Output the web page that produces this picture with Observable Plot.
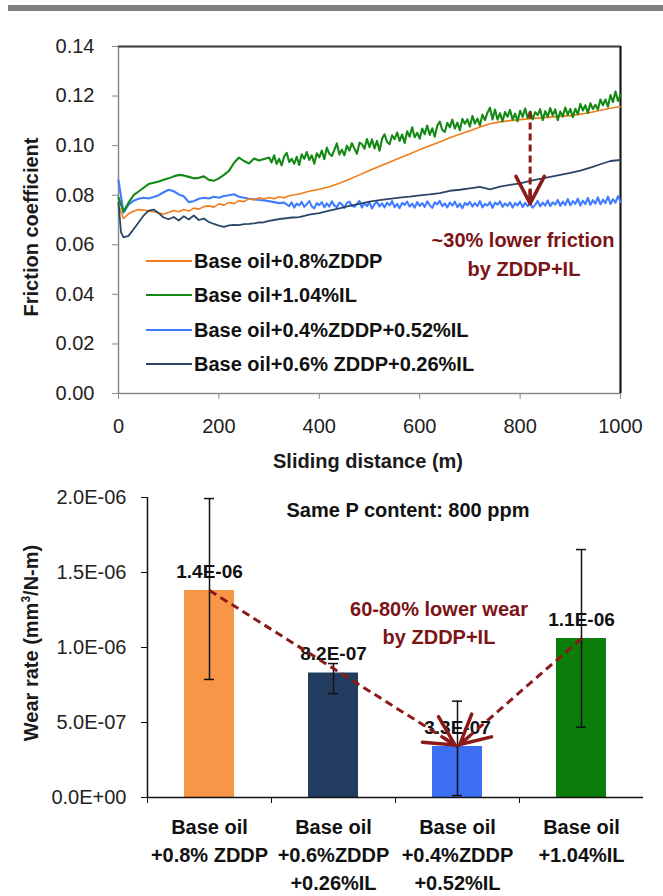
<!DOCTYPE html>
<html><head><meta charset="utf-8">
<script src="https://cdn.jsdelivr.net/npm/d3@7"></script>
<script src="https://cdn.jsdelivr.net/npm/@observablehq/plot@0.6"></script>
<style>
html,body{margin:0;padding:0;background:#fff;}
#page{position:relative;width:663px;height:896px;overflow:hidden;font-family:"Liberation Sans",Arial,sans-serif;color:#1a1a1a;}
.abs{position:absolute;white-space:nowrap;font-weight:bold;font-size:20px;line-height:1;}
.c{transform:translate(-50%,-50%);}
.rot{transform:translate(-50%,-50%) rotate(-90deg);}
.red{color:#7b1416;}
</style></head>
<body><div id="page">
<div id="top" style="position:absolute;left:0;top:0"></div>
<div id="bottom" style="position:absolute;left:0;top:480px"></div>
<div id="band" style="position:absolute;left:8px;top:5px;width:655px;height:6px;background:#808080"></div>
</div>
<script>
// ---------- Friction data (sliding distance m, friction coefficient) ----------
const orangeData = [[0,0.0760],[10,0.0706],[20,0.0725],[30,0.0735],[40,0.0742],[50,0.0740],[60,0.0736],[70,0.0733],[80,0.0728],[90,0.0724],[100,0.0730],[110,0.0738],[120,0.0733],[130,0.0742],[140,0.0736],[150,0.0748],[160,0.0744],[170,0.0754],[180,0.0757],[190,0.0752],[200,0.0765],[210,0.0760],[220,0.0771],[230,0.0766],[240,0.0778],[250,0.0774],[260,0.0786],[270,0.0781],[280,0.0790],[290,0.0785],[300,0.0791],[310,0.0786],[320,0.0794],[330,0.0790],[340,0.0798],[360,0.0805],[380,0.0816],[400,0.0824],[420,0.0834],[440,0.0848],[460,0.0864],[480,0.0882],[500,0.0900],[520,0.0917],[540,0.0933],[560,0.0950],[580,0.0966],[600,0.0984],[620,0.1000],[640,0.1015],[660,0.1032],[680,0.1046],[700,0.1060],[720,0.1075],[740,0.1088],[760,0.1096],[780,0.1101],[800,0.1105],[820,0.1109],[840,0.1112],[860,0.1115],[880,0.1118],[900,0.1121],[920,0.1127],[940,0.1134],[960,0.1143],[980,0.1151],[1000,0.1158]];

const greenData = [[0,0.0790],[10,0.0734],[20,0.0770],[30,0.0800],[40,0.0815],[50,0.0830],[60,0.0845],[70,0.0850],[80,0.0855],[90,0.0862],[100,0.0868],[110,0.0876],[120,0.0882],[130,0.0880],[140,0.0874],[150,0.0868],[160,0.0870],[170,0.0876],[180,0.0862],[190,0.0858],[200,0.0868],[210,0.0882],[220,0.0898],[230,0.0930],[240,0.0952],[250,0.0938],[260,0.0928],[270,0.0948],[280,0.0940],[290,0.0946],
[300,0.0952],[305,0.0932],[310,0.0961],[315,0.0926],[320,0.0947],[325,0.0920],[330,0.0957],[335,0.0971],[340,0.0934],[345,0.0947],[350,0.0927],[355,0.0955],[360,0.0922],[365,0.0965],[370,0.0947],[375,0.0974],[380,0.0942],[385,0.0961],[390,0.0927],[395,0.0969],
[400,0.0953],[405,0.0980],[410,0.0945],[415,0.0992],[420,0.0967],[425,0.0958],[430,0.0983],[435,0.1009],[440,0.0964],[445,0.0984],[450,0.0961],[455,0.1000],[460,0.0980],[465,0.1010],[470,0.0988],[475,0.0967],[480,0.1012],[485,0.1006],[490,0.0988],[495,0.1027],
[500,0.0994],[505,0.1025],[510,0.0989],[515,0.1019],[520,0.0979],[525,0.1028],[530,0.1046],[535,0.1015],[540,0.1006],[545,0.1042],[550,0.1026],[555,0.1053],[560,0.1019],[565,0.1045],[570,0.1011],[575,0.1058],[580,0.1036],[585,0.1074],[590,0.1034],[595,0.1052],
[600,0.1028],[605,0.1069],[610,0.1046],[615,0.1081],[620,0.1043],[625,0.1070],[630,0.1036],[635,0.1080],[640,0.1097],[645,0.1063],[650,0.1055],[655,0.1092],[660,0.1074],[665,0.1105],[670,0.1069],[675,0.1093],[680,0.1062],[685,0.1108],[690,0.1088],[695,0.1106],
[700,0.1077],[705,0.1120],[710,0.1089],[715,0.1109],[720,0.1082],[725,0.1125],[730,0.1103],[735,0.1133],[740,0.1153],[745,0.1106],[750,0.1146],[755,0.1105],[760,0.1131],[765,0.1098],[770,0.1136],[775,0.1117],[780,0.1144],[785,0.1105],[790,0.1129],[795,0.1098],
[800,0.1141],[805,0.1116],[810,0.1150],[815,0.1112],[820,0.1138],[825,0.1106],[830,0.1135],[835,0.1123],[840,0.1147],[845,0.1103],[850,0.1139],[855,0.1116],[860,0.1152],[865,0.1122],[870,0.1146],[875,0.1103],[880,0.1138],[885,0.1117],[890,0.1154],[895,0.1124],
[900,0.1148],[905,0.1115],[910,0.1149],[915,0.1127],[920,0.1169],[925,0.1142],[930,0.1163],[935,0.1132],[940,0.1171],[945,0.1147],[950,0.1165],[955,0.1146],[960,0.1186],[965,0.1163],[970,0.1186],[975,0.1157],[980,0.1204],[985,0.1176],[990,0.1218],[995,0.1180],[1000,0.1205]];

const blueData = [[0,0.0860],[10,0.0730],[20,0.0762],[30,0.0778],[40,0.0786],[50,0.0790],[60,0.0787],[70,0.0793],[80,0.0800],[90,0.0812],[100,0.0822],[110,0.0816],[120,0.0803],[130,0.0796],[140,0.0772],[150,0.0776],[160,0.0786],[170,0.0790],[180,0.0787],[190,0.0794],[200,0.0790],[210,0.0797],[220,0.0800],[230,0.0804],[240,0.0794],[250,0.0790],[260,0.0786],[270,0.0784],[280,0.0781],[290,0.0779],[300,0.0776],[310,0.0772],[320,0.0768],[330,0.0770],
[340,0.0756],[345,0.0771],[350,0.0750],[355,0.0766],[360,0.0759],[365,0.0773],[370,0.0753],[375,0.0764],[380,0.0776],[385,0.0755],[390,0.0747],[395,0.0768],
[400,0.0760],[405,0.0772],[410,0.0751],[415,0.0767],[420,0.0754],[425,0.0775],[430,0.0758],[435,0.0752],[440,0.0770],[445,0.0763],[450,0.0749],[455,0.0769],[460,0.0774],[465,0.0757],[470,0.0753],[475,0.0765],[480,0.0777],[485,0.0750],[490,0.0768],[495,0.0756],
[500,0.0771],[505,0.0746],[510,0.0764],[515,0.0773],[520,0.0755],[525,0.0767],[530,0.0751],[535,0.0770],[540,0.0759],[545,0.0776],[550,0.0752],[555,0.0765],[560,0.0748],[565,0.0769],[570,0.0761],[575,0.0774],[580,0.0754],[585,0.0766],[590,0.0750],[595,0.0772],
[600,0.0757],[605,0.0768],[610,0.0753],[615,0.0775],[620,0.0760],[625,0.0749],[630,0.0771],[635,0.0763],[640,0.0777],[645,0.0755],[650,0.0767],[655,0.0751],[660,0.0770],[665,0.0758],[670,0.0774],[675,0.0752],[680,0.0766],[685,0.0747],[690,0.0769],[695,0.0760],
[700,0.0773],[705,0.0754],[710,0.0768],[715,0.0756],[720,0.0776],[725,0.0751],[730,0.0765],[735,0.0758],[740,0.0772],[745,0.0749],[750,0.0770],[755,0.0762],[760,0.0775],[765,0.0753],[770,0.0767],[775,0.0757],[780,0.0771],[785,0.0750],[790,0.0768],[795,0.0759],
[800,0.0774],[805,0.0752],[810,0.0769],[815,0.0756],[820,0.0766],[825,0.0750],[830,0.0761],[835,0.0777],[840,0.0755],[845,0.0770],[850,0.0758],[855,0.0779],[860,0.0756],[865,0.0771],[870,0.0762],[875,0.0781],[880,0.0757],[885,0.0774],[890,0.0760],[895,0.0784],
[900,0.0759],[905,0.0776],[910,0.0765],[915,0.0786],[920,0.0758],[925,0.0778],[930,0.0764],[935,0.0789],[940,0.0761],[945,0.0780],[950,0.0766],[955,0.0791],[960,0.0763],[965,0.0782],[970,0.0768],[975,0.0794],[980,0.0765],[985,0.0784],[990,0.0770],[995,0.0796],[1000,0.0772]];

const navyData = [[0,0.0770],[5,0.0650],[10,0.0630],[20,0.0636],[30,0.0663],[40,0.0690],[50,0.0718],[60,0.0738],[70,0.0742],[80,0.0728],[90,0.0710],[100,0.0703],[110,0.0712],[120,0.0698],[130,0.0715],[140,0.0702],[150,0.0718],[160,0.0700],[170,0.0706],[180,0.0692],[190,0.0684],[200,0.0677],[210,0.0672],[220,0.0678],[230,0.0680],[240,0.0679],[250,0.0683],[260,0.0684],[270,0.0686],[280,0.0690],[290,0.0691],[300,0.0696],[310,0.0700],[320,0.0704],[330,0.0706],[340,0.0709],[360,0.0712],[380,0.0722],[400,0.0728],[420,0.0738],[440,0.0747],[460,0.0757],[480,0.0765],[500,0.0774],[520,0.0780],[540,0.0785],[560,0.0790],[580,0.0794],[600,0.0799],[620,0.0803],[640,0.0808],[660,0.0818],[680,0.0822],[700,0.0828],[720,0.0834],[740,0.0824],[760,0.0835],[780,0.0842],[800,0.0848],[820,0.0858],[840,0.0866],[860,0.0874],[880,0.0882],[900,0.0890],[920,0.0899],[940,0.0911],[960,0.0925],[980,0.0938],[1000,0.0942]];

const seriesNames = ["Base oil+0.8%ZDDP","Base oil+1.04%IL","Base oil+0.4%ZDDP+0.52%IL","Base oil+0.6% ZDDP+0.26%IL"];
const seriesColors = ["#f07d1a","#148a14","#3f7cff","#2b4566"];
const xTicks = [0,200,400,600,800,1000];
const yTicks = [0,0.02,0.04,0.06,0.08,0.10,0.12,0.14];
const arrowDistance = 820;

// ---------- Wear data ----------
const categories = ["Base oil\n+0.8% ZDDP","Base oil\n+0.6%ZDDP\n+0.26%IL","Base oil\n+0.4%ZDDP\n+0.52%IL","Base oil\n+1.04%IL"];
const wearValues = [1.38e-6, 0.83e-6, 0.34e-6, 1.06e-6];
const wearLabels = ["1.4E-06","8.2E-07","3.3E-07","1.1E-06"];
const errLow = [0.787e-6, 0.693e-6, 0.013e-6, 0.469e-6];
const errHigh = [1.993e-6, 0.893e-6, 0.642e-6, 1.653e-6];
const barColors = ["#f79646","#213c5e","#3d6ff5","#0b7d0b"];
const wearTicks = [0, 5e-7, 1e-6, 1.5e-6, 2e-6];
const wearTickLabels = ["0.0E+00","5.0E-07","1.0E-06","1.5E-06","2.0E-06"];
const wearArrows = [[0,2],[3,2]];

const FONT = '"Liberation Sans", Arial, sans-serif';
const DARKRED = "#8b1a1a";
const HEAD = 13; // solid part near the arrow tip

// ---------- Top chart ----------
const allSeries = [orangeData, greenData, blueData, navyData];
const drawOrder = [2, 0, 1, 3];
const rows = (k) => allSeries[k].map(([d, v]) => ({d, v}));
const at = (k, d) => allSeries[k].find(p => p[0] === d)[1];
const arrowTop = [{x: arrowDistance, y1: at(1, arrowDistance), y2: at(2, arrowDistance)}];

const topOpts = {
  width: 663, height: 480,
  marginLeft: 118, marginRight: 43, marginTop: 46, marginBottom: 87,
  style: {fontFamily: FONT, fontSize: "20px", color: "#222", background: "transparent", overflow: "visible"},
  x: {domain: [0, 1000], label: null},
  y: {domain: [0, 0.14], label: null}
};
const topProbe = Plot.plot({...topOpts, marks: [Plot.frame()]});
const ty = topProbe.scale("y"), tx = topProbe.scale("x");
arrowTop.forEach(a => {
  const len = Math.hypot(tx.apply(a.x) - tx.apply(a.x), ty.apply(a.y1) - ty.apply(a.y2));
  a.inset = Math.max(0, len - HEAD);
});

const topPlot = Plot.plot({
  ...topOpts,
  marks: [
    Plot.frame({stroke: "#8a8a8a", strokeWidth: 1.5}),
    Plot.ruleY([0.14], {stroke: "#444", strokeWidth: 2}),
    Plot.ruleX([1000], {stroke: "#111", strokeWidth: 2}),
    Plot.axisX(xTicks, {tickSize: 6, tickPadding: 19, stroke: "#888", fill: "#222", tickFormat: d => String(d), label: null}),
    Plot.axisY(yTicks, {tickSize: 6, tickPadding: 18, stroke: "#888", fill: "#222", tickFormat: d3.format(".2f"), label: null}),
    ...drawOrder.map(k => Plot.line(rows(k), {x: "d", y: "v", stroke: seriesColors[k], strokeWidth: k === 0 ? 1.6 : (k === 3 ? 1.8 : 2.1), strokeLinejoin: "round"})),
    Plot.link(arrowTop, {x1: "x", x2: "x", y1: "y1", y2: "y2", stroke: DARKRED, strokeWidth: 3, strokeDasharray: "7,4", insetEnd: 6}),
    Plot.arrow(arrowTop, {x1: "x", x2: "x", y1: "y1", y2: "y2", stroke: DARKRED, strokeWidth: 3.5, headLength: 14, headAngle: 55, insetStart: arrowTop[0].inset})
  ]
});
document.getElementById("top").appendChild(topPlot);

// ---------- Bottom chart ----------
const bars = categories.map((c, i) => ({cat: c, v: wearValues[i], lo: errLow[i], hi: errHigh[i], label: wearLabels[i], color: barColors[i]}));
const arrowsB = wearArrows.map(([a, b]) => ({x1: categories[a], y1: wearValues[a], x2: categories[b], y2: wearValues[b]}));
const W = 663, ML = 147, MR = 20;
const step = (W - ML - MR) / categories.length;

const botOpts = {
  width: 663, height: 416,
  marginLeft: ML, marginRight: MR, marginTop: 17, marginBottom: 99,
  style: {fontFamily: FONT, fontSize: "20px", color: "#222", background: "transparent", overflow: "visible"},
  x: {domain: categories, paddingInner: 0.6, paddingOuter: 0.3, label: null},
  y: {domain: [0, 2e-6], label: null},
  color: {type: "identity"}
};
const botProbe = Plot.plot({...botOpts, marks: [Plot.frame()]});
const bx = botProbe.scale("x"), by = botProbe.scale("y");
const bw = bx.bandwidth || 0;
arrowsB.forEach(a => {
  const dxp = (bx.apply(a.x2) + bw / 2) - (bx.apply(a.x1) + bw / 2);
  const dyp = by.apply(a.y2) - by.apply(a.y1);
  a.inset = Math.max(0, Math.hypot(dxp, dyp) - 3 - HEAD);
});

const bottomPlot = Plot.plot({
  ...botOpts,
  marks: [
    Plot.barY(bars, {x: "cat", y: "v", fill: "color"}),
    Plot.text(bars, {x: "cat", y: "v", text: "label", dy: -19, fontWeight: "bold", fontSize: 19, fill: "#111"}),
    Plot.ruleX(bars, {x: "cat", y1: "lo", y2: "hi", stroke: "#111", strokeWidth: 1.5}),
    Plot.tickY(bars, {x: "cat", y: "lo", stroke: "#111", strokeWidth: 1.5, insetLeft: 20, insetRight: 20}),
    Plot.tickY(bars, {x: "cat", y: "hi", stroke: "#111", strokeWidth: 1.5, insetLeft: 20, insetRight: 20}),
    Plot.link(arrowsB, {x1: "x1", y1: "y1", x2: "x2", y2: "y2", stroke: DARKRED, strokeWidth: 3, strokeDasharray: "8,5", insetEnd: 9}),
    ...arrowsB.map(a => Plot.arrow([a], {x1: "x1", y1: "y1", x2: "x2", y2: "y2", stroke: DARKRED, strokeWidth: 3.5, headLength: 14, headAngle: 55, insetEnd: 3, insetStart: a.inset})),
    Plot.ruleY([0], {stroke: "#111", strokeWidth: 1.5}),
    Plot.ruleX([categories[0]], {stroke: "#111", strokeWidth: 1.5, dx: -step / 2}),
    Plot.axisX(categories, {tickSize: 6, tickFormat: () => "", stroke: "#111", dx: -step / 2, label: null}),
    Plot.axisX({tickSize: 0, tickPadding: 16, fontWeight: "bold", fill: "#111", lineHeight: 1.42, label: null}),
    Plot.axisY(wearTicks, {tickSize: 6, tickPadding: 15, stroke: "#111", fill: "#222", tickFormat: d => wearTickLabels[wearTicks.indexOf(d)], label: null})
  ]
});
document.getElementById("bottom").appendChild(bottomPlot);

// ---------- Text overlays ----------
const page = document.getElementById("page");
function addText(txt, x, y, cls, extra) {
  const el = document.createElement("div");
  el.className = "abs " + cls;
  el.style.left = x + "px"; el.style.top = y + "px";
  if (extra) Object.assign(el.style, extra);
  el.innerHTML = txt;
  page.appendChild(el);
  return el;
}
addText("Friction coefficient", 31, 227, "rot");
addText("Sliding distance (m)", 368, 461, "c");
addText("~30% lower friction", 523, 240, "c red");
addText("by ZDDP+IL", 524, 269, "c red");
addText("Wear rate (mm<sup style='font-size:12px;vertical-align:8px;line-height:0'>3</sup>/N-m)", 31, 643, "rot");
addText("Same P content: 800 ppm", 408, 510, "c", {color: "#111"});
addText("60-80% lower wear", 439, 609, "c red");
addText("by ZDDP+IL", 439, 637, "c red");

// legend
seriesNames.forEach((name, i) => {
  const y = 261 + i * 34.3;
  const ln = document.createElement("div");
  Object.assign(ln.style, {position: "absolute", left: "146px", top: (y - 1) + "px", width: "46px", height: "2px", background: seriesColors[i]});
  page.appendChild(ln);
  addText(name, 194, y, "", {transform: "translateY(-50%)", color: "#111"});
});
page.appendChild(document.getElementById("band"));
</script>
</body></html>
